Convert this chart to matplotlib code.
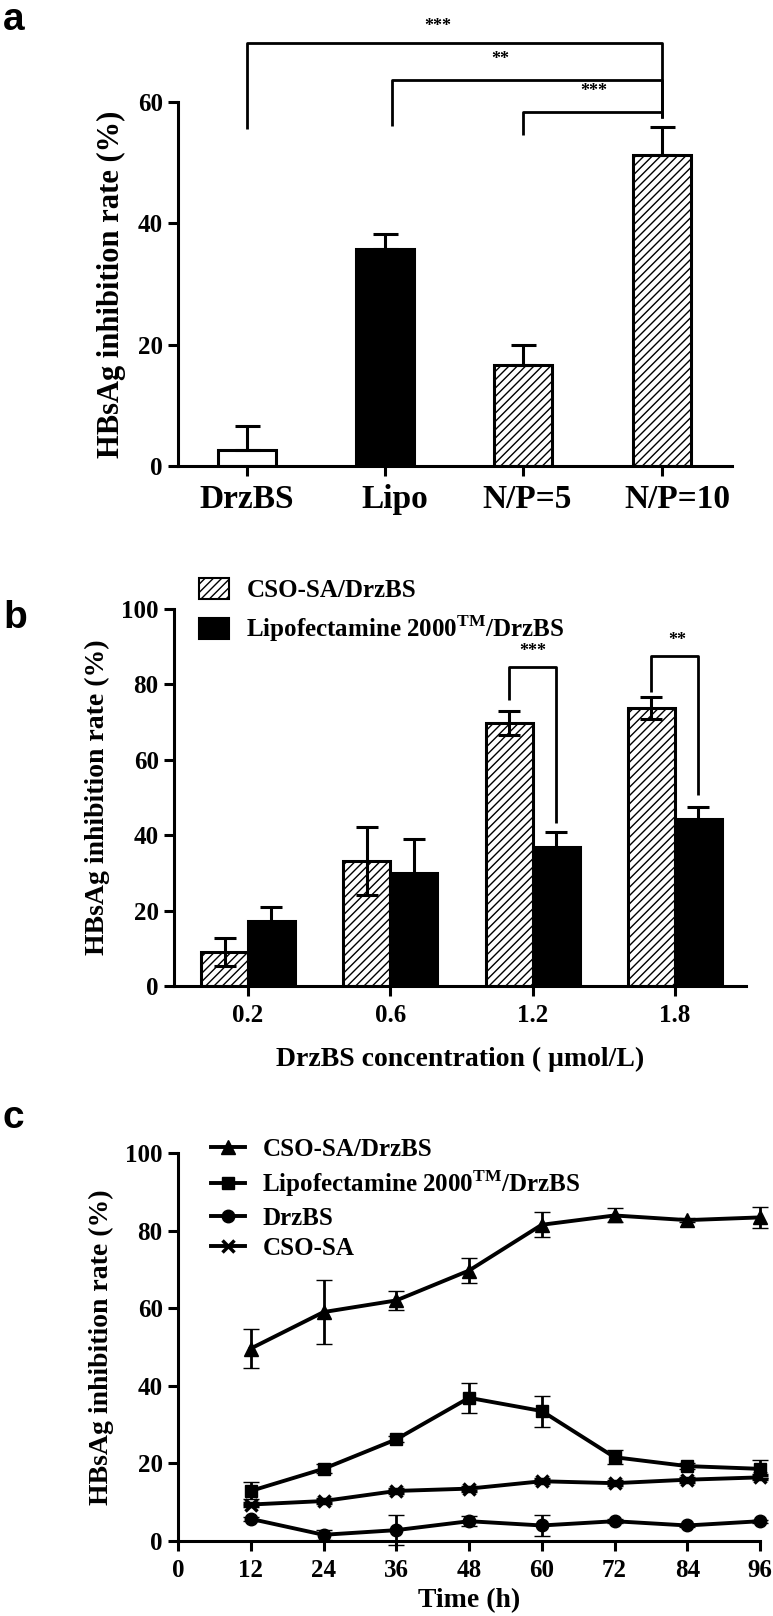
import matplotlib
matplotlib.use("Agg")
import matplotlib.pyplot as plt
from matplotlib.patches import Patch
from matplotlib.lines import Line2D
from matplotlib.transforms import ScaledTranslation

plt.rcParams["font.family"] = ["Liberation Serif", "DejaVu Serif"]
plt.rcParams["font.weight"] = "bold"
plt.rcParams["mathtext.fontset"] = "custom"
plt.rcParams["mathtext.rm"] = "Liberation Serif:bold"
plt.rcParams["mathtext.bf"] = "Liberation Serif:bold"
plt.rcParams["hatch.linewidth"] = 1.0

# ---- panel a data
a_groups = ["DrzBS", "Lipo", "N/P=5", "N/P=10"]
a_values = [2.7, 35.8, 16.6, 51.2]
a_err = [3.9, 2.5, 3.3, 4.7]

# ---- panel b data
b_conc = ["0.2", "0.6", "1.2", "1.8"]
b_cso = [9.0, 33.2, 69.7, 73.7]
b_cso_err = [3.7, 9.0, 3.2, 3.0]
b_lipo = [17.2, 29.9, 37.0, 44.2]
b_lipo_err = [3.8, 9.2, 3.8, 3.4]

# ---- panel c data
c_time = [12, 24, 36, 48, 60, 72, 84, 96]
c_cso_drz = [49.6, 59.0, 62.0, 69.7, 81.5, 83.9, 82.7, 83.4]
c_cso_drz_err = [5.0, 8.2, 2.5, 3.2, 3.2, 1.8, 0.5, 2.8]
c_lipo = [12.9, 18.6, 26.2, 36.9, 33.5, 21.6, 19.3, 18.6]
c_lipo_err = [2.2, 1.2, 0.8, 3.9, 4.0, 1.8, 0.8, 2.3]
c_drz = [5.7, 1.6, 2.8, 5.1, 4.0, 5.1, 4.0, 5.1]
c_drz_err = [0.5, 1.3, 3.8, 1.3, 2.6, 0.5, 0.4, 0.4]
c_cso = [9.4, 10.3, 12.9, 13.5, 15.4, 14.9, 15.8, 16.4]
c_cso_err = [0.5, 0.5, 0.5, 0.5, 0.5, 0.5, 0.5, 0.5]

LW = 2.2


def style_axes(ax, xsize=18, ysize=18):
    for s in ["top", "right"]:
        ax.spines[s].set_visible(False)
    for s in ["left", "bottom"]:
        ax.spines[s].set_linewidth(LW)
    ax.tick_params(direction="out", length=7, width=LW, pad=6)
    ax.tick_params(axis="x", labelsize=xsize)
    ax.tick_params(axis="y", labelsize=ysize, pad=4)
    for lab in ax.get_xticklabels() + ax.get_yticklabels():
        lab.set_fontweight("bold")


W, H = 773, 1616
fig = plt.figure(figsize=(W / 100, H / 100), dpi=100)


def axes_px(left, right, top, bottom):
    return fig.add_axes([left / W, 1 - bottom / H, (right - left) / W, (bottom - top) / H])


# ================= panel a =================
ax = axes_px(178, 732, 102, 466)
xa = list(range(len(a_groups)))
fills = ["white", "black", "white", "white"]
hatches = ["", "", "////", "////"]
for i in xa:
    ax.bar(i, a_values[i], width=0.42, color=fills[i], edgecolor="black",
           linewidth=LW, hatch=hatches[i], zorder=2)
ax.errorbar(xa, a_values, yerr=[[0] * 4, a_err], fmt="none", ecolor="black",
            elinewidth=LW, capsize=9, capthick=LW, zorder=3)
ax.set_xlim(-0.5, 3.51)
ax.set_ylim(0, 60)
ax.set_yticks([0, 20, 40, 60])
ax.set_xticks(xa)
ax.set_xticklabels(a_groups)
style_axes(ax, xsize=24, ysize=18)
# labels sit a little right of their ticks in the original
for lab, dx in zip(ax.get_xticklabels(), [0, 10, 4, 16]):
    lab.set_transform(lab.get_transform() + ScaledTranslation(dx / 100, 0, fig.dpi_scale_trans))
ax.set_ylabel("HBsAg inhibition rate (%)", fontsize=22, fontweight="bold", labelpad=8)

# significance brackets
brackets_a = [(0, 55.5, 69.7, 3, 57.3, "***", 1.38, 71.0),
              (1.05, 56.0, 63.6, 3, 57.3, "**", 1.83, 65.6),
              (2, 54.6, 58.4, 3, 57.3, "***", 2.51, 60.3)]
for x0, y0, yt, x1, y1, star, tx, ty in brackets_a:
    ax.plot([x0, x0, x1, x1], [y0, yt, yt, y1], color="black", lw=2.0,
            clip_on=False, solid_capstyle="butt")
    ax.text(tx, ty, star, ha="center", va="bottom", fontsize=13, fontweight="bold")

fig.text(3 / W, 1 - 2 / H, "a", fontsize=28, fontweight="bold",
         family="Liberation Sans", ha="left", va="top")

# ================= panel b =================
ax = axes_px(174, 746, 609, 986)
xb = list(range(len(b_conc)))
bw = 0.33
x_cso = [x - bw / 2 for x in xb]
x_lipo = [x + bw / 2 for x in xb]
ax.bar(x_cso, b_cso, width=bw, color="white", edgecolor="black", linewidth=LW,
       hatch="////", zorder=2)
ax.bar(x_lipo, b_lipo, width=bw, color="black", edgecolor="black", linewidth=LW,
       zorder=2)
ax.errorbar(x_cso, b_cso, yerr=b_cso_err, fmt="none", ecolor="black",
            elinewidth=LW, capsize=8, capthick=LW, zorder=3)
ax.errorbar(x_lipo, b_lipo, yerr=b_lipo_err, fmt="none", ecolor="black",
            elinewidth=LW, capsize=8, capthick=LW, zorder=3)
ax.set_xlim(-0.52, 3.5)
ax.set_ylim(0, 100)
ax.set_yticks(range(0, 101, 20))
ax.set_xticks(xb)
ax.set_xticklabels(b_conc)
style_axes(ax, xsize=18, ysize=18)
ax.set_ylabel("HBsAg inhibition rate (%)", fontsize=20, fontweight="bold", labelpad=8)
ax.set_xlabel("DrzBS concentration ( μmol/L)", fontsize=20, fontweight="bold", labelpad=14)

brackets_b = [(2 - bw / 2, 75.9, 84.7, 2 + bw / 2, 43.3, "***", 2.0, 86.5),
              (3 - bw / 2, 78.1, 87.6, 3 + bw / 2, 50.7, "**", 3.02, 89.5)]
for x0, y0, yt, x1, y1, star, tx, ty in brackets_b:
    ax.plot([x0, x0, x1, x1], [y0, yt, yt, y1], color="black", lw=2.0,
            clip_on=False, solid_capstyle="butt")
    ax.text(tx, ty, star, ha="center", va="bottom", fontsize=13, fontweight="bold")

handles_b = [Patch(facecolor="white", edgecolor="black", hatch="////", linewidth=1.5),
             Patch(facecolor="black", edgecolor="black", linewidth=1.5)]
labels_b = ["CSO-SA/DrzBS", r"Lipofectamine 2000$^{\mathrm{TM}}$/DrzBS"]
ax.legend(handles_b, labels_b, loc="upper left", bbox_to_anchor=(199 / W, 1 - 578 / H),
          bbox_transform=fig.transFigure, frameon=False,
          prop={"weight": "bold", "size": 18}, handlelength=1.2, handleheight=0.9,
          handletextpad=0.7, borderpad=0, borderaxespad=0, labelspacing=0.45)

fig.text(3 / W, 1 - 600 / H, "b", fontsize=28, fontweight="bold",
         family="Liberation Sans", ha="left", va="top")

# ================= panel c =================
ax = axes_px(178, 760, 1153, 1541)
series = [(c_cso_drz, c_cso_drz_err, "^", 10, "CSO-SA/DrzBS"),
          (c_lipo, c_lipo_err, "s", 9, r"Lipofectamine 2000$^{\mathrm{TM}}$/DrzBS"),
          (c_drz, c_drz_err, "o", 9, "DrzBS"),
          (c_cso, c_cso_err, "x", 9, "CSO-SA")]
for vals, errs, mk, ms, lab in series:
    ax.errorbar(c_time, vals, yerr=errs, color="black", lw=2.8, marker=mk,
                markersize=ms, mew=2.5 if mk == "x" else 1, elinewidth=2.0,
                capsize=6, capthick=2.0, clip_on=False, zorder=3, label=lab)
ax.set_xlim(0, 96)
ax.set_ylim(0, 100)
ax.set_xticks(range(0, 97, 12))
ax.set_yticks(range(0, 101, 20))
style_axes(ax, xsize=18, ysize=18)
ax.set_ylabel("HBsAg inhibition rate (%)", fontsize=20, fontweight="bold", labelpad=8)
ax.set_xlabel("Time (h)", fontsize=20, fontweight="bold", labelpad=4)

handles_c = [Line2D([0], [0], color="black", lw=2.8, marker=mk, markersize=ms,
                    mew=2.5 if mk == "x" else 1) for _, _, mk, ms, _ in series]
ax.legend(handles_c, [s[4] for s in series], loc="upper left",
          bbox_to_anchor=(211 / W, 1 - 1138 / H), bbox_transform=fig.transFigure,
          frameon=False, prop={"weight": "bold", "size": 18}, handlelength=1.35,
          handletextpad=0.7, borderpad=0, borderaxespad=0, labelspacing=0.3)

fig.text(3 / W, 1 - 1100 / H, "c", fontsize=28, fontweight="bold",
         family="Liberation Sans", ha="left", va="top")

fig.savefig("out.png", dpi=100, facecolor="white")
